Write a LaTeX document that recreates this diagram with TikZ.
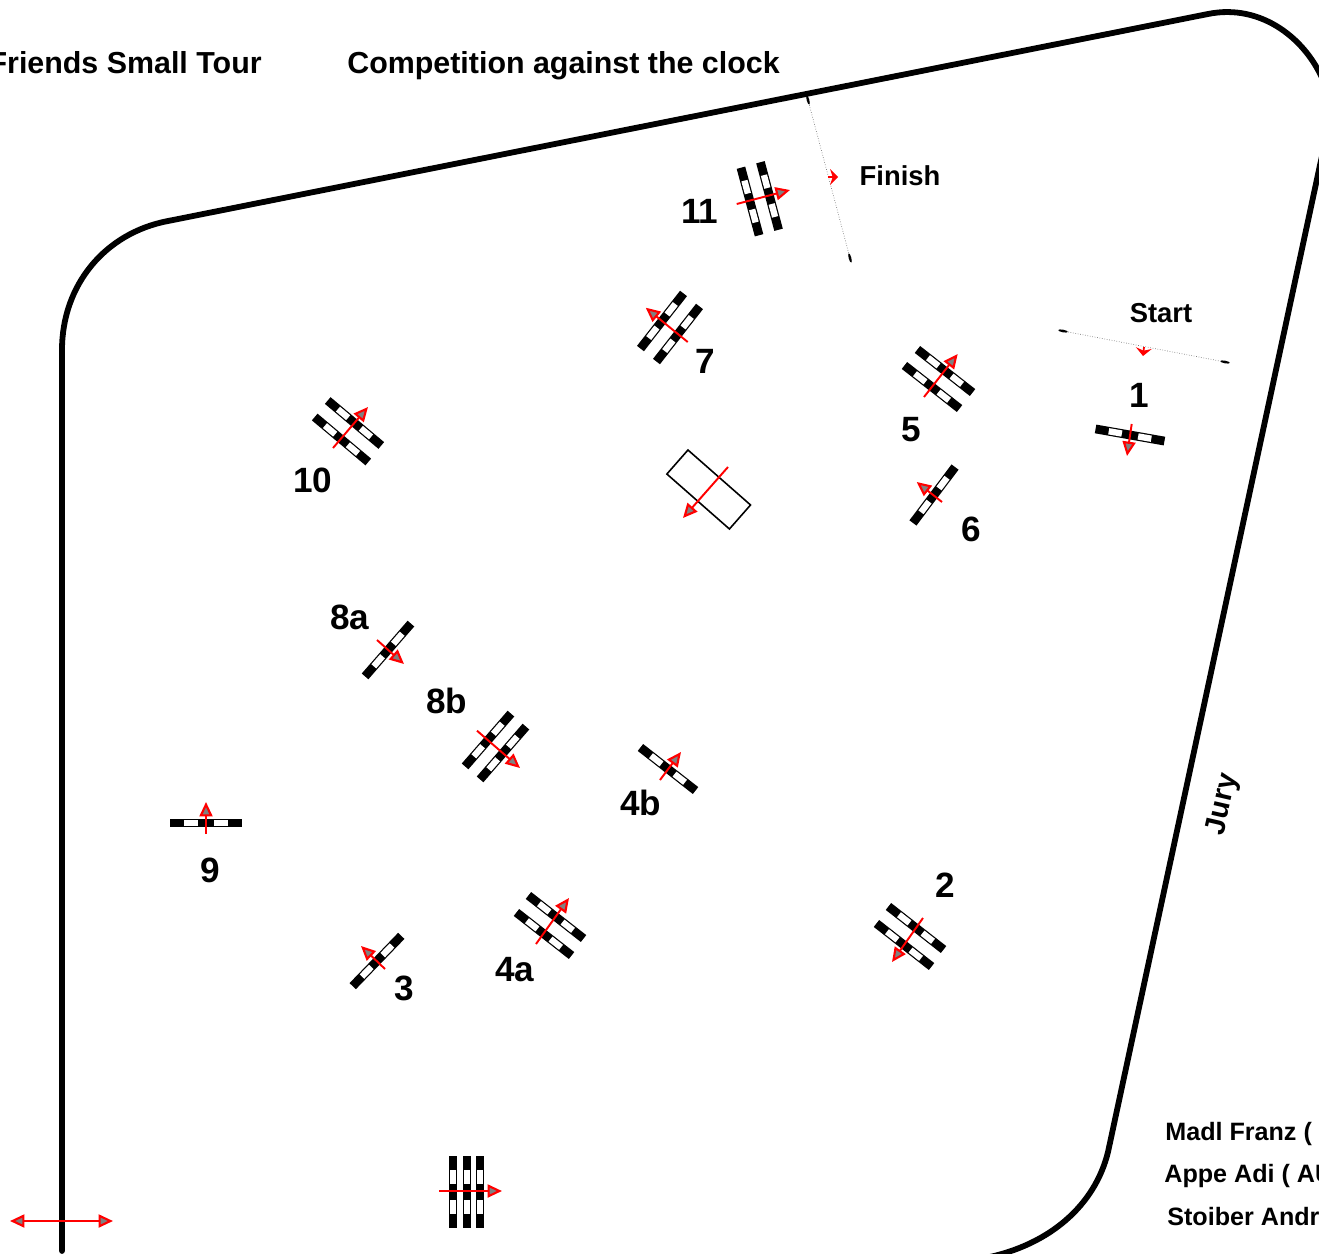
\documentclass[tikz,border=0pt]{standalone}
\usepackage{fontspec}
\setmainfont{Liberation Sans}
\usetikzlibrary{arrows.meta, shapes.geometric}

% white gaps of a rail, the node fill gives the black parts
\newcommand{\railgaps}{\rule{7.6pt}{3.6pt}\hspace{9.4pt}\rule{7.6pt}{3.6pt}}

\begin{document}
\begin{tikzpicture}[
				x=0.02cm, y=-0.02cm,
				rail/.style={rectangle, fill=black, text=white, inner sep=0pt, minimum width=39.8pt, minimum height=5pt},
				ditch/.style={rectangle, draw, line width=0.9pt, inner sep=0pt, minimum width=47.4pt, minimum height=18.2pt},
				gatepost/.style={ellipse, fill=black, inner sep=0pt, minimum width=5.5pt, minimum height=1.5pt},
				gateline/.style={gray, densely dotted, line width=0.4pt},
				course/.style={red, line width=1.1pt, -{Triangle[length=8.2pt, width=7.4pt, line width=1.2pt, fill=gray]}},
				gatedir/.style={red, line width=1pt, -{Stealth[length=4.5pt, width=9pt]}},
				number/.style={font=\bfseries\fontsize{20}{24}\selectfont, anchor=base, xshift=0.5pt, yshift=0.5pt},
				heading/.style={font=\bfseries\fontsize{17.3}{20}\selectfont, inner sep=0pt},
				title/.style={font=\bfseries\fontsize{15.6}{18}\selectfont, anchor=base, yshift=0.5pt},
				jury/.style={font=\bfseries\fontsize{14.3}{18}\selectfont, anchor=base west, inner sep=0pt}
				]
				
				\clip (0,0) rectangle (1319,1254);
				
				% arena
				\draw[line width=3.3pt, line cap=round, line join=round] (62,1251) -- (62,350)
					.. controls (62,285) and (105,233) .. (168,221) -- (1208,14)
					.. controls (1262,3) and (1308,40) .. (1325,85)
					.. controls (1332,110) and (1328,130) .. (1320,165) -- (1108,1152)
					.. controls (1095,1205) and (1050,1245) .. (985,1258);
				
				\node[heading, anchor=base east] (tour) at (262,73) {Friends Small Tour};
				\node[heading, anchor=base west] (comp) at (347,73) {Competition against the clock};
				
				% finish and start
				\node[gatepost, rotate=-75] (fin1) at (808,100) {};
				\node[gatepost, rotate=-75] (fin2) at (850,258) {};
				\draw[gateline] (fin1) -- (fin2);
				\coordinate (fin3) at (828,177);
				\coordinate (fin4) at (838,177);
				\draw[gatedir] (fin3) -- (fin4);
				\node[title] (finish) at (900,186) {Finish};
				
				\node[gatepost, rotate=-11] (sta1) at (1063,331) {};
				\node[gatepost, rotate=-11] (sta2) at (1225,362) {};
				\draw[gateline] (sta1) -- (sta2);
				\coordinate (sta3) at (1144,347);
				\coordinate (sta4) at (1143,356);
				\draw[gatedir] (sta3) -- (sta4);
				\node[title] (start) at (1161,323) {Start};
				
				% single rails
				\node[rail, rotate=-10] (r1) at (1130,435) {\railgaps};
				\node[rail, rotate=53] (r6) at (934,495) {\railgaps};
				\node[rail, rotate=49] (r8a) at (388,650) {\railgaps};
				\node[rail, rotate=-38] (r4b) at (668,769) {\railgaps};
				\node[rail, rotate=46] (r3) at (377,961) {\railgaps};
				\node[rail, minimum width=41pt] (r9) at (206,823) {\railgaps};
				
				% double rails
				\node[rail, rotate=-38] (r2a) at (916,928) {\railgaps};
				\node[rail, rotate=-38] (r2b) at (904,945) {\railgaps};
				\node[rail, rotate=-38] (r4aa) at (556,917) {\railgaps};
				\node[rail, rotate=-38] (r4ab) at (544,934) {\railgaps};
				\node[rail, rotate=-38] (r5a) at (945,371) {\railgaps};
				\node[rail, rotate=-38] (r5b) at (932,387) {\railgaps};
				\node[rail, rotate=52] (r7a) at (662,321) {\railgaps};
				\node[rail, rotate=52] (r7b) at (678,334) {\railgaps};
				\node[rail, rotate=49] (r8ba) at (488,740) {\railgaps};
				\node[rail, rotate=49] (r8bb) at (503,753) {\railgaps};
				\node[rail, rotate=-40] (r10a) at (354.5,423) {\railgaps};
				\node[rail, rotate=-40] (r10b) at (341.5,439.5) {\railgaps};
				\node[rail, rotate=-75] (r11a) at (750,201.5) {\railgaps};
				\node[rail, rotate=-75] (r11b) at (769.5,196) {\railgaps};
				
				% triple rail at the bottom
				\node[rail, rotate=90, minimum width=41pt] (t1) at (453,1192) {\railgaps};
				\node[rail, rotate=90, minimum width=41pt] (t2) at (467,1192) {\railgaps};
				\node[rail, rotate=90, minimum width=41pt] (t3) at (480,1192) {\railgaps};
				
				\node[ditch, rotate=-41.3] (water) at (708.7,489.5) {};
				
				% jumping directions
				\coordinate (a1) at (1131.7,424);   \coordinate (b1) at (1127,456);
				\coordinate (a2) at (923,918);      \coordinate (b2) at (892,962);
				\coordinate (a3) at (385,969);      \coordinate (b3) at (361,946);
				\coordinate (a4a) at (536,944);     \coordinate (b4a) at (569,898);
				\coordinate (a4b) at (660,780);     \coordinate (b4b) at (681,752);
				\coordinate (a5) at (924,397);      \coordinate (b5) at (957.7,354);
				\coordinate (a6) at (942,502);      \coordinate (b6) at (916.7,482);
				\coordinate (a7) at (687.7,342);    \coordinate (b7) at (645.7,307.7);
				\coordinate (a8a) at (377,640);     \coordinate (b8a) at (404,664);
				\coordinate (a8b) at (477,730.7);   \coordinate (b8b) at (520,768);
				\coordinate (a9) at (206,834);      \coordinate (b9) at (206,802);
				\coordinate (a10) at (333,448);     \coordinate (b10) at (368,407);
				\coordinate (a11) at (736.7,204);   \coordinate (b11) at (790,190);
				\coordinate (aw) at (728,467);      \coordinate (bw) at (683,518);
				\coordinate (at) at (439,1191);     \coordinate (bt) at (502,1191);
				\coordinate (al) at (10,1221);      \coordinate (bl) at (113,1221);
				
				\draw[course] (a1) -- (b1);
				\draw[course] (a2) -- (b2);
				\draw[course] (a3) -- (b3);
				\draw[course] (a4a) -- (b4a);
				\draw[course] (a4b) -- (b4b);
				\draw[course] (a5) -- (b5);
				\draw[course] (a6) -- (b6);
				\draw[course] (a7) -- (b7);
				\draw[course] (a8a) -- (b8a);
				\draw[course] (a8b) -- (b8b);
				\draw[course] (a9) -- (b9);
				\draw[course] (a10) -- (b10);
				\draw[course] (a11) -- (b11);
				\draw[course] (aw) -- (bw);
				\draw[course] (at) -- (bt);
				\draw[course, {Triangle[length=8.2pt, width=7.4pt, line width=1.2pt, fill=gray]}-{Triangle[length=8.2pt, width=7.4pt, line width=1.2pt, fill=gray]}] (al) -- (bl);
				
				% numbers
				\node[number] (n1) at (1138,408) {1};
				\node[number] (n2) at (944,898) {2};
				\node[number] (n3) at (403,1001) {3};
				\node[number] (n4a) at (514,982) {4a};
				\node[number] (n4b) at (640,816) {4b};
				\node[number] (n5) at (910,442) {5};
				\node[number] (n6) at (970,542) {6};
				\node[number] (n7) at (704,374) {7};
				\node[number] (n8a) at (349,630) {8a};
				\node[number] (n8b) at (446,714) {8b};
				\node[number] (n9) at (209,883) {9};
				\node[number] (n10) at (312,493) {10};
				\node[number] (n11) at (699,224) {11};
				
				\node[font=\bfseries\fontsize{16.6}{20}\selectfont, anchor=base, inner sep=0pt, rotate=77] (juryname) at (1230,806) {Jury};
				
				\node[jury] (j1) at (1165,1140) {Madl Franz (};
				\node[jury] (j2) at (1164,1182) {Appe Adi ( AU};
				\node[jury] (j3) at (1167,1225) {Stoiber Andr};
				
			\end{tikzpicture}
\end{document}
